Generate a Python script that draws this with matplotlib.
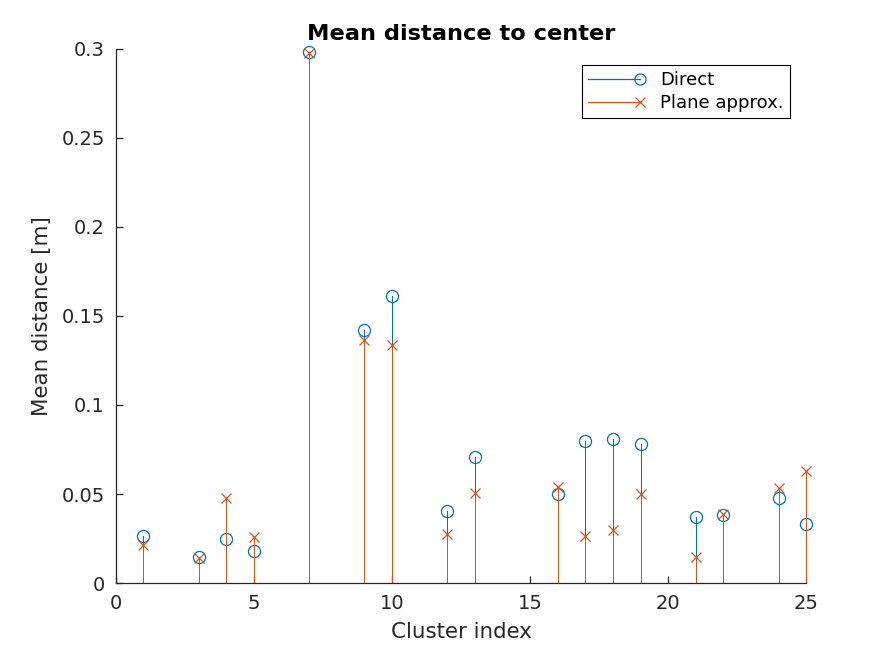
import numpy as np
import matplotlib.pyplot as plt
from matplotlib.lines import Line2D
from matplotlib.legend_handler import HandlerBase
from matplotlib.ticker import FuncFormatter

## data
cluster_idx = [1, 3, 4, 5, 7, 9, 10, 12, 13, 16, 17, 18, 19, 21, 22, 24, 25]
direct = [0.0264, 0.0146, 0.0247, 0.0180, 0.2980, 0.1420, 0.1610, 0.0404, 0.0708,
          0.0500, 0.0798, 0.0809, 0.0780, 0.0370, 0.0380, 0.0478, 0.0330]
plane = [0.0213, 0.0140, 0.0478, 0.0258, 0.2975, 0.1365, 0.1337, 0.0275, 0.0506,
         0.0540, 0.0264, 0.0298, 0.0500, 0.0146, 0.0388, 0.0534, 0.0630]

blue = '#0072BD'
orange = '#D95319'
grey = '#262626'

fig = plt.figure(figsize=(8.91, 6.56), dpi=100)
ax = fig.add_axes([0.13, 0.111, 0.775, 0.815])

# stems: direct first, plane approx drawn on top
for vals, col, mk, ms in [(direct, blue, 'o', 8.7), (plane, orange, 'x', 7.3)]:
    ml, sl, bl = ax.stem(cluster_idx, vals, basefmt=' ')
    sl.set_color(col)
    sl.set_linewidth(0.72)
    sl.set_antialiased(False)
    sl.set_clip_on(False)
    ml.set_marker(mk)
    ml.set_markersize(ms)
    ml.set_markerfacecolor('none')
    ml.set_markeredgecolor(col)
    ml.set_markeredgewidth(0.9)
    ml.set_clip_on(False)
    bl.set_visible(False)

ax.set_xlim(0, 25)
ax.set_ylim(0, 0.3)
ax.set_xticks(np.arange(0, 26, 5))
ax.set_yticks(np.arange(0, 0.301, 0.05))
ax.yaxis.set_major_formatter(FuncFormatter(lambda v, p: '%g' % round(v, 4)))

for s in ['top', 'right']:
    ax.spines[s].set_visible(False)
for s in ['left', 'bottom']:
    ax.spines[s].set_color(grey)
    ax.spines[s].set_linewidth(0.9)
ax.tick_params(direction='in', length=5, width=0.9, colors=grey, labelsize=14, pad=8)

ax.set_xlabel('Cluster index', fontsize=15.4, color=grey, labelpad=6)
ax.set_ylabel('Mean distance [m]', fontsize=15.4, color=grey, labelpad=7)
ax.set_title('Mean distance to center', fontsize=16.2, fontweight='bold', pad=6)


# MATLAB-like legend sample: line ending in the marker
class StemHandler(HandlerBase):
    def create_artists(self, legend, orig, xdescent, ydescent, width, height, fontsize, trans):
        y = height / 2 - ydescent
        ln = Line2D([-xdescent, width - xdescent], [y, y], color=orig.get_color(), lw=0.9)
        mk = Line2D([width - xdescent], [y], marker=orig.get_marker(),
                    markersize=orig.get_markersize(), markerfacecolor='none',
                    markeredgecolor=orig.get_color(), markeredgewidth=0.9, linestyle='none')
        ln.set_transform(trans)
        mk.set_transform(trans)
        return [ln, mk]


h1 = Line2D([], [], color=blue, marker='o', markersize=8)
h2 = Line2D([], [], color=orange, marker='x', markersize=7)
leg = ax.legend([h1, h2], ['Direct', 'Plane approx.'], handler_map={Line2D: StemHandler()},
                loc='upper right', bbox_to_anchor=(790 / 891, 1 - 65 / 656),
                bbox_transform=fig.transFigure, borderaxespad=0, fontsize=13,
                handlelength=2.9, handletextpad=1.1, labelspacing=0.25, borderpad=0.35,
                fancybox=False, framealpha=1, edgecolor='black')
leg.get_frame().set_linewidth(0.8)

fig.savefig('out.png', dpi=100)
